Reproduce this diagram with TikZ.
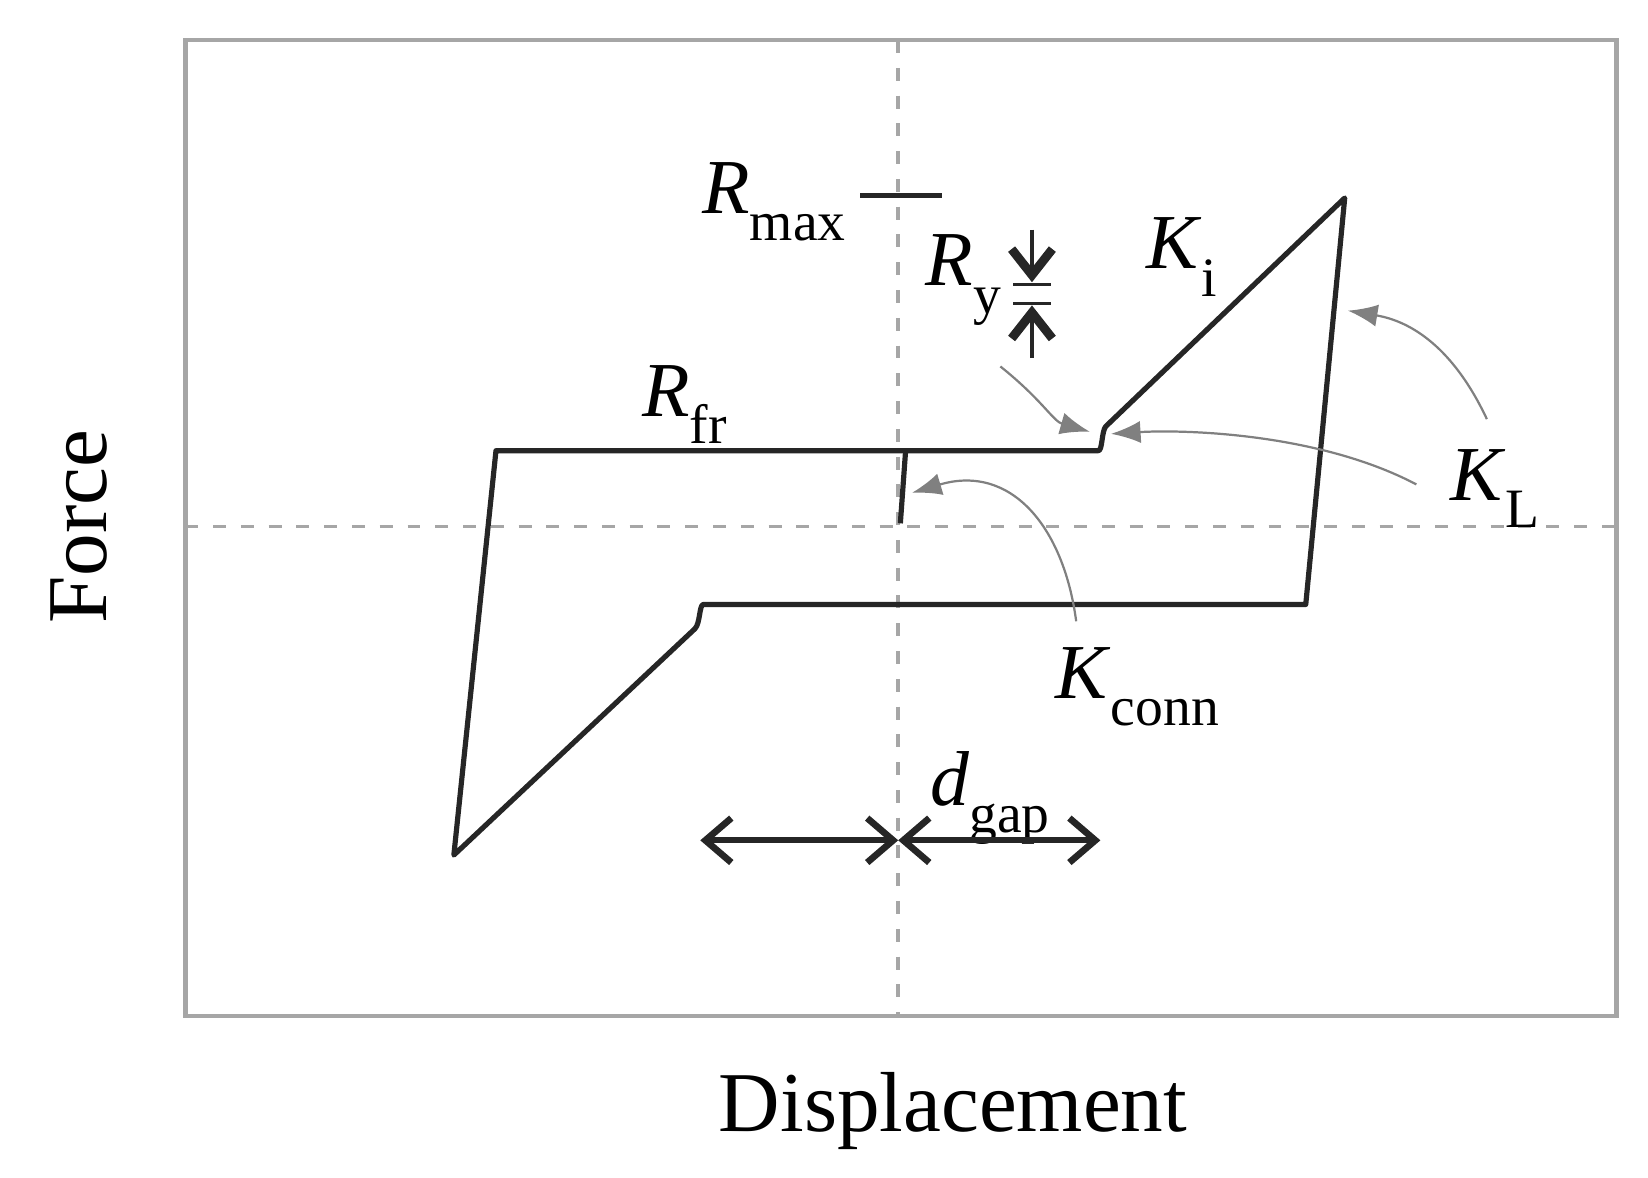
\documentclass[tikz,border=0pt]{standalone}
\usepackage{fontspec}
\setmainfont{Liberation Serif}
\usetikzlibrary{arrows.meta}
\newcommand{\lab}[2]{\textit{#1}\raisebox{-0.35em}{\fontsize{15}{18}\selectfont #2}}
\begin{document}
\begin{tikzpicture}[x=0.01cm,y=-0.01cm,
  lbl/.style={font=\fontsize{21}{25}\selectfont,inner sep=0pt},
  main/.style={line width=1.4pt,line join=round,black!85},
  ann/.style={gray,line width=0.6pt,-{Latex[length=8pt,width=6pt]}},
  thick arrow/.style={line width=1.6pt,black!85,{Straight Barb[length=7pt,width=12pt,line width=1.8pt]}-{Straight Barb[length=7pt,width=12pt,line width=1.8pt]}},
  axdash/.style={gray!70,line width=1pt,dash pattern=on 3.5pt off 4pt}]
\useasboundingbox (0,0) rectangle (1565,1118);
\draw[gray!70,line width=1.2pt] (176,38) rectangle (1535,965);
\draw[axdash] (853,38) -- (853,965);
\draw[axdash] (176,500) -- (1535,500);
\draw[main] (855,497) -- (860,428);
\draw[main] (471,428) -- (1043,428) .. controls (1047,428) and (1046,410) .. (1050,405) -- (1277,188) -- (1240,574) -- (668,574) .. controls (664,574) and (665,592) .. (660,597) -- (431,812) -- cycle;
\draw[main] (817,186) -- (895,186);
% Ry
\draw[line width=0.8pt,black!85] (962,270) -- (998,270) (962,288) -- (998,288);
\coordinate (ryt) at (980,218); \coordinate (ryb) at (980,340);
\draw[line width=1pt,black!85,-{Straight Barb[length=7pt,width=11pt,line width=2.4pt]}] (ryt) -- (980,268);
\draw[line width=1pt,black!85,-{Straight Barb[length=7pt,width=11pt,line width=2.4pt]}] (ryb) -- (980,290);
% labels
\node[lbl] (rmax) at (735,192) {\lab{R}{max}};
\node[lbl] (ry) at (915,266) {\lab{R}{y}};
\node[lbl] (ki) at (1122,244) {\lab{K}{i}};
\node[lbl] (rfr) at (650,384) {\lab{R}{fr}};
\node[lbl] (kl) at (1420,464) {\lab{K}{L}};
\node[lbl] (kc) at (1080,652) {\lab{K}{conn}};
\node[lbl] (dg) at (940,758) {\lab{d}{gap}};
\node[font=\fontsize{23}{28}\selectfont,rotate=90] (force) at (75,500) {Force};
\node[font=\fontsize{23}{28}\selectfont] (disp) at (905,1055) {Displacement};
% annotations
\coordinate (a1) at (1035,410); \coordinate (a2) at (1280,295);
\coordinate (a3) at (1055,412); \coordinate (a4) at (866,468);
\draw[ann] (950,348) .. controls (990,380) and (1000,400) .. (a1);
\draw[ann] (1412,398) .. controls (1380,330) and (1340,305) .. (a2);
\draw[ann] (1345,460) .. controls (1250,410) and (1120,408) .. (a3);
\draw[ann] (1022,590) .. controls (1010,500) and (960,440) .. (a4);
% dgap
\coordinate (g1) at (665,798); \coordinate (g2) at (853,798); \coordinate (g3) at (1045,798);
\draw[thick arrow] (g1) -- (g2);
\draw[thick arrow] (g2) -- (g3);
\end{tikzpicture}
\end{document}
